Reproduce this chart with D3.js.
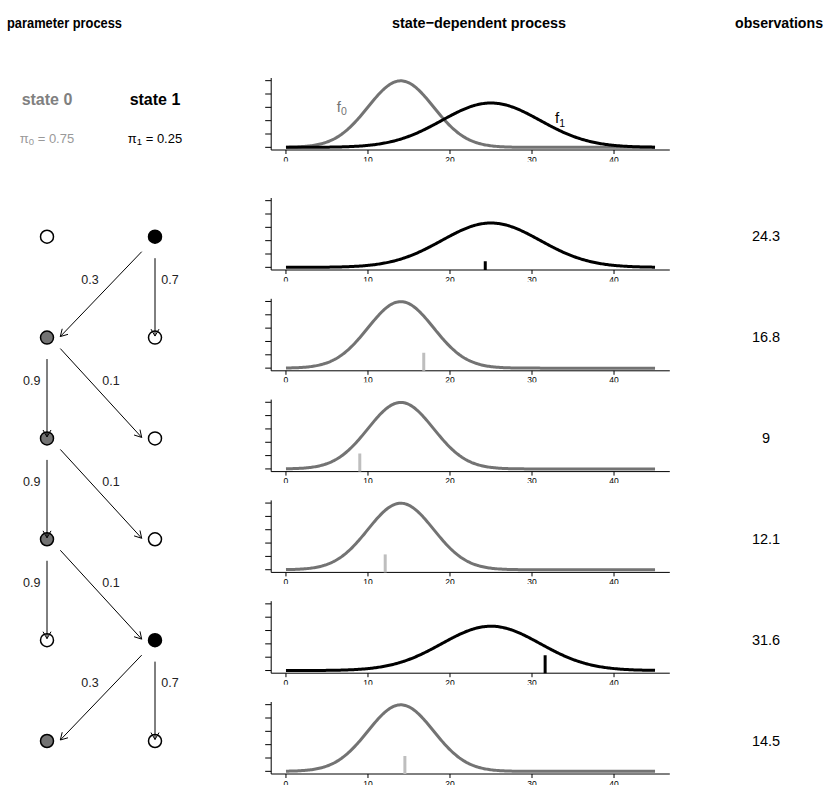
<!DOCTYPE html>
<html><head><meta charset="utf-8">
<script src="https://cdn.jsdelivr.net/npm/d3@7"></script>
<style>
body{margin:0;background:#fff}
svg{display:block}
text{font-family:"Liberation Sans", Arial, Helvetica, sans-serif}
</style>
</head><body><div id="chart"></div>
<script>
// ---------- data ----------
const states = [0, 1];
const stateNames = ["state 0", "state 1"];
const initialProbs = [0.75, 0.25];
const transition = [[0.9, 0.1], [0.3, 0.7]];
const stateMeans = [14, 25];
const stateSDs = [4, 6];
const stateSeq = [1, 0, 0, 0, 1, 0];
const observations = [24.3, 16.8, 9, 12.1, 31.6, 14.5];
const obsMarkHeights = [0.009, 0.023, 0.023, 0.023, 0.023, 0.023];
const xTicks = [0, 10, 20, 30, 40];
const yTicks = [0, 0.02, 0.04, 0.06, 0.08, 0.1];
const xRange = [0, 45];
const headers = ["parameter process", "state\u2212dependent process", "observations"];

// ---------- styles ----------
const W = 825, H = 785;
const curveColor = ["#737373", "#000000"];
const nodeFill = ["#737373", "#000000"];
const obsColor = ["#bebebe", "#000000"];
const stateTextColor = ["#808080", "#000000"];
const piTextColor = ["#999999", "#000000"];

const svg = d3.select("#chart").append("svg").attr("width", W).attr("height", H);
const defs = svg.append("defs");

// headers
const headerX = [64.5, 479, 779];
const headerW = [115, 174, 88];
svg.selectAll("text.header").data(headers).join("text")
  .attr("class", "header")
  .attr("x", (d, i) => headerX[i]).attr("y", 27.5)
  .attr("text-anchor", "middle")
  .attr("font-weight", "bold").attr("font-size", 15.5)
  .attr("textLength", (d, i) => headerW[i]).attr("lengthAdjust", "spacingAndGlyphs")
  .text(d => d);

// ---------- left diagram ----------
const colX = d3.scaleOrdinal().domain(states).range([47, 155]);
const rowY = d3.scaleLinear().domain([0, stateSeq.length - 1]).range([236.7, 741]);

svg.selectAll("text.stname").data(states).join("text")
  .attr("class", "stname")
  .attr("x", s => colX(s)).attr("y", 104.5)
  .attr("text-anchor", "middle").attr("font-weight", "bold").attr("font-size", 16)
  .attr("fill", s => stateTextColor[s])
  .text(s => stateNames[s]);

const piText = svg.selectAll("text.pi").data(states).join("text")
  .attr("class", "pi")
  .attr("x", s => colX(s)).attr("y", 142.5)
  .attr("text-anchor", "middle").attr("font-size", 13)
  .attr("fill", s => piTextColor[s]);
piText.append("tspan").text("\u03c0");
piText.append("tspan").attr("font-size", 9.5).attr("dy", 2.5).text(s => s);
piText.append("tspan").attr("dy", -2.5).text(s => " = " + initialProbs[s].toFixed(2));

// nodes
const nodes = [];
stateSeq.forEach((active, r) => states.forEach(s => nodes.push({r, s, active: s === active})));
svg.selectAll("circle.node").data(nodes).join("circle")
  .attr("class", "node")
  .attr("cx", d => colX(d.s)).attr("cy", d => rowY(d.r)).attr("r", 6.5)
  .attr("fill", d => d.active ? nodeFill[d.s] : "#fff")
  .attr("stroke", "#000").attr("stroke-width", 1.5);

// arrows
const startDy = [11, 15];
function arrowPath(x1, y1, x2, y2) {
  const a = Math.atan2(y2 - y1, x2 - x1), L = 8, h = Math.PI / 6;
  const p1 = [x2 - L * Math.cos(a - h), y2 - L * Math.sin(a - h)];
  const p2 = [x2 - L * Math.cos(a + h), y2 - L * Math.sin(a + h)];
  return `M${x1},${y1}L${x2},${y2}M${p1[0]},${p1[1]}L${x2},${y2}L${p2[0]},${p2[1]}`;
}
const arrows = [];
for (let r = 0; r < stateSeq.length - 1; r++) {
  const from = stateSeq[r];
  states.forEach(to => arrows.push({r, from, to, p: transition[from][to]}));
}
const ag = svg.append("g");
ag.selectAll("path").data(arrows).join("path")
  .attr("d", d => {
    const x0 = colX(d.from), y0 = rowY(d.r), x1 = colX(d.to), y1 = rowY(d.r + 1);
    if (d.from === d.to) return arrowPath(x0, y0 + 21.5, x1, y1 - 1.5);
    const dir = Math.sign(x1 - x0);
    return arrowPath(x0 + dir * 13.3, y0 + startDy[d.from], x1 - dir * 13.3, y1 - 1);
  })
  .attr("fill", "none").attr("stroke", "#000").attr("stroke-width", 1);
ag.selectAll("text").data(arrows).join("text")
  .attr("x", d => {
    if (d.from === d.to) return colX(d.from) + (d.from === 0 ? -15.3 : 15);
    const mid = (colX(0) + colX(1)) / 2;
    return mid + (d.to === 1 ? 10 : -11);
  })
  .attr("y", d => rowY(d.r) + 47.3)
  .attr("text-anchor", "middle").attr("font-size", 12.5).attr("fill", "#222")
  .text(d => d.p);

// observations labels
svg.selectAll("text.obs").data(observations).join("text")
  .attr("class", "obs")
  .attr("x", 766).attr("y", (d, i) => rowY(i) + 4.5)
  .attr("text-anchor", "middle").attr("font-size", 14.5)
  .text(d => d);

// ---------- density panels ----------
const x = d3.scaleLinear().domain([-1.8, 46.8]).range([271.2, 669.8]);
const panelTops = [78, 198, 298.8, 399.6, 500.4, 601.2, 702];
const panelH = 72;
const dnorm = (v, m, s) => Math.exp(-0.5 * ((v - m) / s) ** 2) / (s * Math.sqrt(2 * Math.PI));
const grid = d3.range(xRange[0], xRange[1] + 0.001, 0.15);

panelTops.forEach((top, k) => {
  const y = d3.scaleLinear().domain([-0.004, 0.104]).range([top + panelH, top]);
  const bottom = y(-0.004);
  const cid = "clip" + k;
  defs.append("clipPath").attr("id", cid).append("rect")
    .attr("x", 240).attr("y", top - 10).attr("width", 450).attr("height", panelH + 21.5);
  const g = svg.append("g").attr("clip-path", `url(#${cid})`);

  // box (L-shape)
  g.append("path")
    .attr("d", `M${x(-1.8)},${y(0.104)}V${bottom}H${x(46.8)}`)
    .attr("fill", "none").attr("stroke", "#000").attr("stroke-width", 1);
  // y ticks
  g.selectAll("line.yt").data(yTicks).join("line").attr("class", "yt")
    .attr("x1", x(-1.8) - 6).attr("x2", x(-1.8))
    .attr("y1", d => y(d)).attr("y2", d => y(d))
    .attr("stroke", "#000").attr("stroke-width", 1);
  // x ticks + labels
  g.selectAll("line.xt").data(xTicks).join("line").attr("class", "xt")
    .attr("x1", d => x(d)).attr("x2", d => x(d))
    .attr("y1", bottom).attr("y2", bottom + 4)
    .attr("stroke", "#000").attr("stroke-width", 1);
  g.selectAll("text.xl").data(xTicks).join("text").attr("class", "xl")
    .attr("x", d => x(d)).attr("y", bottom + 12.5)
    .attr("text-anchor", "middle").attr("font-size", 8.5)
    .text(d => d);

  const line = (s) => d3.line().x(d => x(d)).y(d => y(dnorm(d, stateMeans[s], stateSDs[s])))(grid);

  if (k === 0) {
    states.forEach(s => {
      g.append("path").attr("d", line(s)).attr("fill", "none")
        .attr("stroke", curveColor[s]).attr("stroke-width", 3);
    });
    const labPos = [[6.2, 0.0535], [32.8, 0.036]];
    states.forEach(s => {
      const t = g.append("text").attr("x", x(labPos[s][0])).attr("y", y(labPos[s][1]))
        .attr("font-size", 15).attr("fill", curveColor[s]);
      t.append("tspan").text("f");
      t.append("tspan").attr("font-size", 10.5).attr("dy", 3.5).text(s);
    });
  } else {
    const s = stateSeq[k - 1];
    g.append("path").attr("d", line(s)).attr("fill", "none")
      .attr("stroke", curveColor[s]).attr("stroke-width", 3);
    g.append("line")
      .attr("x1", x(observations[k - 1])).attr("x2", x(observations[k - 1]))
      .attr("y1", bottom).attr("y2", y(obsMarkHeights[k - 1]))
      .attr("stroke", obsColor[s]).attr("stroke-width", 3);
  }
});
</script>
</body></html>
